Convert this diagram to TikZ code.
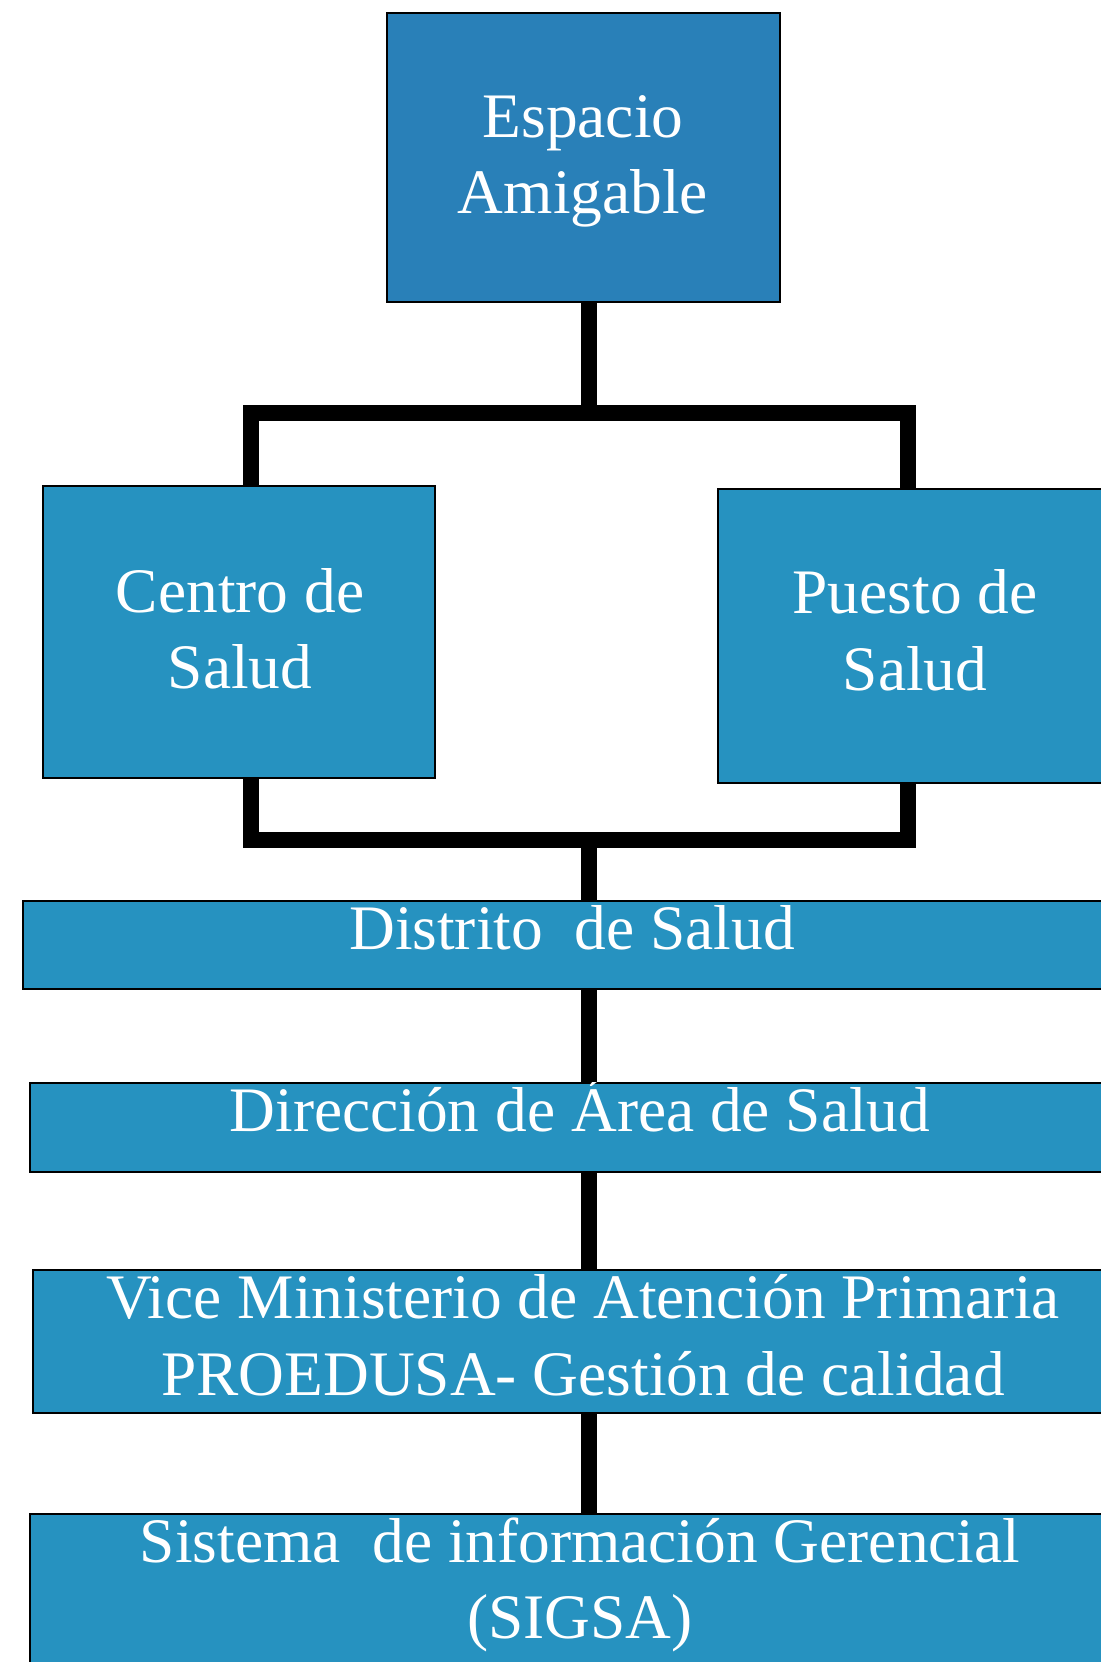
\documentclass[tikz,border=0pt]{standalone}
\usepackage{fontspec}
\setmainfont{Liberation Serif}
\usetikzlibrary{fit}
\definecolor{topblue}{RGB}{41,128,184}
\definecolor{boxblue}{RGB}{38,146,192}
\begin{document}
\begin{tikzpicture}[x=0.5pt,y=-0.5pt,
  box/.style={draw=black,line width=1pt,fill=boxblue,inner sep=0pt},
  conn/.style={draw=black,line width=8pt,line join=miter},
  txt/.style={text=white,font=\fontsize{31.7}{38}\selectfont,anchor=base,inner sep=0pt}]
\useasboundingbox (0,0) rectangle (1101,1662);
\clip (0,0) rectangle (1101,1662);
% boxes
\node[box,fill=topblue,fit={(387,13) (780,302)}] (espacio) {};
\node[box,fit={(43,486) (435,778)}] (centro) {};
\node[box,fit={(718,489) (1113,783)}] (puesto) {};
\node[box,fit={(23,901) (1121,989)}] (distrito) {};
\node[box,fit={(30,1083) (1130,1172)}] (direccion) {};
\node[box,fit={(33,1270) (1133,1413)}] (vice) {};
\node[box,fit={(30,1514) (1130,1700)}] (sigsa) {};
% texts
\node[txt] (t1a) at (583,137) {Espacio};
\node[txt] (t1b) at (583,213) {Amigable};
\node[txt] (t2a) at (240,612) {Centro de};
\node[txt] (t2b) at (240,688) {Salud};
\node[txt] (t3a) at (915,613) {Puesto de};
\node[txt] (t3b) at (915,690) {Salud};
\node[txt] (t4) at (572,949) {Distrito\ \ de Salud};
\node[txt] (t5) at (580,1131) {Dirección de Área de Salud};
\node[txt] (t6a) at (583,1318) {Vice Ministerio de Atención Primaria};
\node[txt] (t6b) at (583,1395) {PROEDUSA- Gestión de calidad};
\node[txt] (t7a) at (580,1562) {Sistema\ \ de información Gerencial};
\node[txt] (t7b) at (580,1638) {(SIGSA)};
% junctions
\coordinate (jt) at (589,413);
\coordinate (jtl) at (251,413);
\coordinate (jtr) at (908,413);
\coordinate (jb) at (589,840);
\coordinate (jbl) at (251,840);
\coordinate (jbr) at (908,840);
% connectors
\draw[conn] (espacio.south -| jt) -- (jt);
\draw[conn] (centro.north -| jtl) -- (jtl) -- (jtr) -- (puesto.north -| jtr);
\draw[conn] (centro.south -| jbl) -- (jbl) -- (jbr) -- (puesto.south -| jbr);
\draw[conn] (jb) -- (distrito.north -| jb);
\draw[conn] (distrito.south -| jb) -- (direccion.north -| jb);
\draw[conn] (direccion.south -| jb) -- (vice.north -| jb);
\draw[conn] (vice.south -| jb) -- (sigsa.north -| jb);
\end{tikzpicture}
\end{document}
